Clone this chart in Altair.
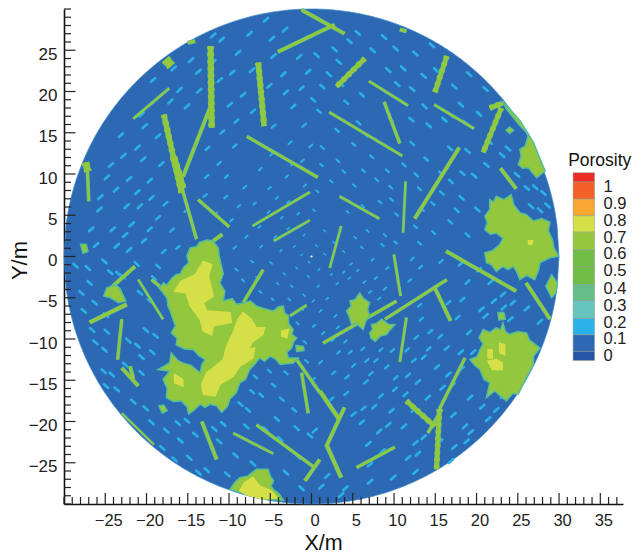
import math
import altair as alt
import pandas as pd

X_MAJOR = [-25, -20, -15, -10, -5, 0, 5, 10, 15, 20, 25, 30, 35]
Y_MAJOR = [-25, -20, -15, -10, -5, 0, 5, 10, 15, 20, 25]
X_MINOR = [v for v in range(-30, 38) if v not in X_MAJOR]
Y_MINOR = [v for v in range(-30, 31) if v not in Y_MAJOR]

FONT = "Liberation Sans"
DISC = "#2d68b2"
SKY = "#2ab0e6"
GREEN = "#93c83e"
YELLOW = "#d5df47"
EDGE = "#56bd9c"

# fractures: x1, y1, x2, y2, width class
FRACTURES = [
    (-12.24,25.5,-12.1,15.6,5),(-6.46,23.5,-5.74,15.8,4.5),(-17.9,17.2,-15.76,7.7,4.5),
    (-16.7,12,-15.6,8.2,6),(-15.76,8.5,-13.94,2.1,2.5),(-12.24,18.2,-15.56,9.7,3),
    (-7.84,14.55,0.76,9.6,2.5),(-13.74,6.9,-9.98,3.6,2.5),(-7.15,3.7,-0.2,7.8,1.8),
    (-4.57,1.9,-0.2,4.4,1.8),(-21.6,16.7,-17.25,20.4,2),(-4.08,24.8,2.8,28.1,3),
    (-1.2,29.9,4,27,3),(-27.2,11.4,-27.0,6.7,2.5),(-27.4,11.4,-27.1,10.3,6),
    (-17.7,23.9,-17,23.1,8),(-15,25.9,-14.1,26.1,3),(-10.8,2.7,-11.9,1.9,3),
    (-5.86,-1.6,-8.28,-5.6,2.5),(-21.4,-1.2,-24.1,-3.6,3),(6.46,24,3.03,20.6,4),
    (6.95,21.25,11.7,18.3,2),(8.8,18.75,10.7,13.7,2.5),(2.14,17.5,11,12.2,2),
    (14.87,18.4,19.7,15.5,2),(16.4,24.3,14.95,19.9,4),(23,18,20.8,12.6,4),
    (21.6,18,23.2,18.6,4),(17.9,13.2,12.5,4.6,3),(11.4,9.1,11.1,2.9,1.8),
    (3.4,7.3,8.2,4.6,2),(3.6,3.7,2.2,-1.4,1.8),(9.98,0.24,10.8,-4.8,2),
    (16.3,0.65,24.8,-4.2,3),(26,-3.2,28.9,-7.6,3),(16.4,-2.8,8.9,-7.6,2.5),
    (10.3,-5.4,1.4,-10.5,2.5),(14.95,-3.8,16.85,-7.8,3),(11.5,-7.4,10.7,-12.8,2),
    (18.6,-12.3,15.5,-18.5,2.5),(15.5,-18.5,15.15,-25.8,4),(11.5,-17.5,14.95,-20.6,4),
    (14.1,-21.4,15.8,-18.5,2.5),(10.1,-23.1,5.45,-25.6,2.5),(1,-16.3,3.4,-19.8,3.5),
    (4,-18.3,1.8,-23,3),(1.8,-22.8,3.6,-26.8,3.5),(-0.8,-27.2,1,-24.6,3),
    (-6.67,-20.4,0.4,-25.6,2.5),(-9.5,-21.4,-4.65,-23.9,2),(-13.3,-20,-11.5,-24.6,3),
    (-1.2,-14.1,-0.4,-19,2.5),(-1.8,-12.5,1,-16.5,2.5),(-21,-2.8,-18,-7.6,1.8),
    (-26.9,-8,-22.4,-5.8,3.5),(-23,-7.6,-23.5,-12.5,2.5),(-23,-13.5,-21,-15.7,3),
    (-22,-13.3,-21.6,-14.8,3),(-19.4,-2.8,-18.4,-3.6,2.5),(-23,-19,-19.1,-22.8,1.5),
    (-2.6,-7.2,-0.6,-5.9,2),(22.9,10.7,24.8,8.2,3),(10.7,27.5,11.5,27.3,3),
]

GREEN_BLOBS = {
    "main": [(-18.5,-3.8),(-17.9,-3.2),(-17.6,-3.5),(-16.9,-2.6),(-16.4,-2.2),(-15.9,-2.1),(-15.5,-1.3),(-14.9,-0.8),
             (-15.1,0.1),(-14.7,1.05),(-13.9,1.2),(-13.6,1.7),(-12.7,2.0),(-12.0,1.9),(-11.3,1.05),(-11.2,0.1),
             (-10.9,-1.2),(-10.7,-2.1),(-11.1,-3.2),(-10.5,-4.2),(-10.7,-5.4),(-9.6,-5.1),(-9.1,-5.8),(-8.1,-5.6),
             (-7.4,-5.4),(-6.7,-6.0),(-5.8,-6.3),(-4.6,-6.6),(-4.0,-6.1),(-3.4,-6.0),(-3.3,-6.8),(-2.8,-7.2),
             (-2.8,-8.1),(-2.2,-8.9),(-2.4,-9.4),(-1.8,-9.9),(-2.2,-10.4),(-2.4,-11.1),(-3.0,-11.6),(-2.8,-12.3),
             (-1.6,-12.3),(-2.2,-12.9),(-3.8,-13.1),(-4.4,-12.4),(-5.05,-12.1),(-5.7,-12.7),(-6.3,-12.3),(-7.0,-13.2),
             (-7.5,-13.7),(-8.0,-14.9),(-8.7,-15.3),(-9.1,-16.5),(-9.9,-17.3),(-10.2,-18.2),(-10.9,-18.9),(-11.5,-18.1),
             (-12.3,-17.9),(-12.9,-18.3),(-13.5,-17.9),(-14.2,-18.6),(-14.9,-19.1),(-15.1,-18.2),(-15.8,-17.5),
             (-16.7,-17.6),(-17.6,-17.1),(-17.5,-16),(-18,-14.9),(-17.2,-13.9),(-18.6,-13.7),(-17.2,-12.9),(-17,-11.7),
             (-16.2,-12.6),(-15.6,-12.9),(-14.6,-13.2),(-13.5,-14.1),(-13.3,-13.1),(-12.9,-12.5),(-13.7,-12),
             (-14.3,-11.3),(-15.4,-11.2),(-16.4,-10.7),(-16.3,-9.9),(-17,-9.25),(-16.5,-8.4),(-16.8,-7.6),(-17.1,-6.7),
             (-17.4,-6),(-17.5,-5.1),(-18,-4.4)],
    "bottom": [(-9.9,-28.25),(-9.3,-27.4),(-8.7,-26.8),(-7.7,-26.6),(-6.7,-25.8),(-5.25,-25.8),(-5.0,-26.6),(-4.6,-27.2),
               (-4.9,-27.8),(-4.6,-28.25),(-3.9,-28.8),(-3.4,-29.6),(-5.9,-29.4),(-8.3,-28.7)],
    "c1": [(5.85,-4.4),(6.2,-5),(7.05,-5.6),(6.8,-6.4),(7.05,-7.2),(6.6,-7.8),(6.25,-8.85),(5.4,-8.1),(4.85,-8.25),
           (4.6,-7.4),(4.25,-6.6),(4.8,-6),(4.65,-5.4),(5.3,-5.2)],
    "c2": [(8.5,-7.6),(9.3,-8.2),(10.1,-8.25),(9.5,-8.9),(9.1,-9.45),(8.4,-9.6),(7.7,-10.3),(7.2,-9.9),(7.05,-9.25),
           (7.4,-8.8),(7.25,-8.25),(7.9,-8.1)],
    "rlow": [(20.8,-8.85),(21.6,-9.2),(22.4,-8.65),(22.9,-8.9),(23.2,-8.05),(23.5,-9.1),(24,-9.45),(25,-9.1),(26.05,-9.25),
             (26.4,-10.1),(27.7,-11.1),(26.9,-12.1),(26.9,-13.1),(26.1,-14.6),(25.05,-16.7),(24.4,-16.6),(23.6,-17.5),
             (22.9,-16.9),(22.2,-16.3),(21.2,-17.1),(21.6,-15.3),(20.9,-14.9),(20.4,-13.7),(19.9,-13.3),(19.2,-12.5),
             (20.1,-12.1),(20.4,-11.3),(20.8,-10.6),(20.3,-9.85)],
    "rup": [(21.6,6.9),(22.0,6.6),(22.4,7.3),(23.3,6.9),(24.2,7.5),(24.5,6.3),(25.25,5.3),(26.0,5.1),(26.9,4.3),(27.9,4.6),
            (28.9,4.15),(28.7,3.1),(29.2,2.05),(29.4,1.0),(29.95,0.05),(28.9,-0.15),(27.7,-0.75),(27.5,-1.7),(27.05,-2.8),
            (26.1,-2.3),(25.25,-2.8),(24.9,-1.9),(24.45,-1.2),(23.8,-1.6),(23.2,-1.2),(22.4,-1.8),(21.8,-1.0),
            (21.2,-0.75),(21,0.45),(21.9,0.7),(22.8,1.45),(23.2,2.2),(22.4,2.85),(21.7,2.7),(21,3.25),(21.3,4.1),(21,4.9),
            (21.6,5.7)],
    "sliver": [(23.2,18.8),(25.25,16.5),(26.3,14.8),(25.2,15.9),(23.6,17.9)],
    "wedge": [(26.3,14.8),(26.9,13.8),(28.3,10.35),(27.3,9.55),(26.8,10.1),(26.3,10.75),(25.6,10.7),(25.05,11.15),
              (25.4,12.1),(25.25,13),(25.9,13.4)],
    "edge": [(29.1,-2.2),(29.8,-3.2),(29.6,-4.4),(29.1,-5),(28.4,-3.6)],
    "left": [(-23.8,-3.4),(-23.2,-3.9),(-22.9,-4.6),(-22.5,-5.4),(-23.4,-5.6),(-24.4,-5),(-25.2,-4.8),(-24.8,-3.8)],
    "d1": [(-18.5,-18.1),(-17.9,-18),(-17.5,-18.7),(-18.1,-19)],
    "d2": [(-28,1.5),(-27.3,1.5),(-27.1,0.6),(-27.7,0.4)],
    "d3": [(24,15.7),(24.5,15.3),(24,14.9),(23.6,15.3)],
    "d4": [(22.6,-6.8),(23.3,-6.8),(23.5,-7.6),(22.7,-7.7)],
    "d5": [(-1.9,-10.8),(-1,-10.9),(-0.9,-11.4),(-1.8,-11.5)],
}
YELLOW_BLOBS = {
    "y1": [(-13.1,-0.6),(-12.1,-1.0),(-12.5,-2.4),(-11.9,-4.8),(-13.1,-5.6),(-12.7,-6.6),(-9.9,-6.8),(-9.7,-8.0),
           (-11.9,-8.4),(-12.1,-9.5),(-13.1,-9.05),(-13.5,-7.6),(-14.7,-6.0),(-15.2,-4.4),(-16.6,-4.2),
           (-15.8,-3.0),(-14.1,-2.2)],
    "y2": [(-8.3,-6.8),(-7.3,-7.6),(-6.7,-8.65),(-5.7,-8.65),(-5.9,-9.45),(-7.1,-10.3),(-7.7,-11.3),(-6.9,-11.1),
           (-7.1,-12.3),(-8.7,-13.3),(-9.5,-14.5),(-11.1,-15.5),(-11.7,-16.9),(-13.1,-16.7),(-13.3,-15.5),
           (-12.7,-14.1),(-11.9,-13.5),(-10.7,-12.5),(-10.3,-10.9),(-9.5,-9.25),(-8.9,-7.6)],
    "y3": [(-16.6,-14.3),(-15.6,-14.9),(-15.6,-15.7),(-16.6,-15.3)],
    "y4": [(-3.6,-9.05),(-2.8,-8.85),(-3,-9.85),(-3.6,-9.65)],
    "y5": [(-8.7,-28.4),(-8.1,-27.4),(-7.1,-26.8),(-6.3,-27.8),(-4.9,-28.4),(-4.2,-29.25),(-5.9,-29.4),(-7.9,-28.85)],
    "y6": [(22.8,-10.5),(23.4,-10.7),(23.4,-11.9),(22.8,-11.7)],
    "y7": [(21.4,-11.3),(21.9,-11.3),(21.9,-12.3),(21.4,-12.3)],
    "y8": [(21.4,-12.7),(22.4,-12.5),(23.1,-12.9),(23.1,-13.7),(21.9,-13.7)],
    "y9": [(26.3,1.9),(26.8,1.9),(26.7,1.5),(26.3,1.5)],
}

# small pale blue flecks (x, y)
FLECKS = [
    (-5.5,28.7),(-4.8,26.4),(-8.9,24.7),(-10.9,26.3),(-11.9,26.8),(-1.2,20.4),(0.2,19),(-4.6,15.8),(-9.3,13.4),(-3,9.7),
    (-10.3,9.7),(-12.7,9.7),(-22.4,6.1),(-25.7,5.7),(-20.8,6.1),(-26.7,3.3),(-23.6,1.3),(-22.8,12.2),(-20.4,11.8),(-16,20.2),
    (-11.1,21.4),(-8.3,19.6),(-9.9,18.4),(-7.2,22.6),(-3.4,22.1),(-1.5,24.2),(-0.7,26.4),(-3.2,27.5),(-7.5,27),(-14.6,23.8),
    (-13.7,22.4),(-19.2,21.4),(-15.1,18.2),(-20.2,15.8),(-23.1,14.7),(-21.1,13.2),(-19.6,9.2),(-24.8,9.6),(-23.7,8.1),(-17.7,6.4),
    (-18.6,4.7),(-21.8,3.9),(-24.1,3.3),(-26.1,1.4),(-25.1,-0.6),(-22.1,0.8),(-20.3,1.9),(-17.9,0.6),(-16.9,3.2),(-18.6,-1.2),
    (-12.6,13.1),(-11.2,11.3),(-8.1,8.4),(-6.2,10.6),(-4.8,12.4),(-2.6,13.8),(-0.9,15.9),(-2.2,18.2),(2.1,22.1),(0.6,24.4),
    (2.8,25.1),(5.6,27.1),(8.8,26.6),(7.4,25),(10.2,25.2),(12.6,24.6),(11.1,22.8),(13.6,21.9),(9.3,22.6),(6.1,19.6),
    (4.2,18.7),(1.3,20.6),(12.2,20.3),(13.7,18.2),(12.1,16.6),(14.2,15.9),(17.3,20.6),(19.1,22.1),(21.1,20.3),(18.1,18.4),
    (20.3,17.3),(16.8,13.1),(18.9,12.8),(21.2,11.1),(19.7,9.8),(15.7,10.1),(13.9,11.8),(12.2,13.7),(9.2,10.4),(7.3,12.1),
    (5.1,13.6),(3.2,11.6),(1.3,13.2),(-1.1,11.6),(0.7,7.9),(2.4,9.1),(5.2,8.6),(7.9,9.3),(13.1,8.2),(15.8,7.7),
    (18.2,7.1),(20.1,5.7),(16.8,4.2),(14.8,2.9),(18.9,2.6),(13.1,1.6),(15.7,-0.6),(18.1,-0.9),(20.3,-1.6),(13.2,-1.3),
    (11.9,-2.9),(13.1,-5.9),(18.3,-5.2),(20.6,-6.4),(17.7,-7.4),(19.1,-9.2),(14.4,-9.1),(12.7,-9.8),(13.6,-12.2),(16.4,-11.1),
    (18.1,-11.6),(12.9,-15.2),(10.2,-14.7),(7.8,-12.6),(5.1,-13.2),(3.3,-11.6),(1.1,-12.8),(6.6,-15.2),(8.4,-16.9),(4.2,-16.6),
    (6.3,-18.4),(9.7,-18.7),(11.2,-20.6),(8.2,-21.2),(6.1,-20.1),(8.6,-23.6),(12.9,-23.9),(11.7,-24.4),(12.6,-26.1),(9.9,-26.8),
    (7.1,-27.3),(4.1,-28.1),(1.2,-27.9),(3.6,-28.9),(17.2,-19.2),(18.6,-20.6),(19.3,-21.3),(17.3,-23.1),(21.4,-19.7),(19.2,-17.1),
    (18.8,-22.4),(16.9,-24.8),(23.2,-16.9),(17.1,-15.6),(-3.1,-14.1),(-4.6,-15.6),(-6.8,-14.6),(-3.6,-17.3),(-6.1,-16.8),
    (-7.7,-18.6),(-4.2,-19.7),(-1.8,-20.8),(-7.9,-20.6),(-10.7,-20.3),(-11.2,-22.4),(-14.1,-21.6),(-15.9,-22.3),(-14.8,-24.4),(-17.6,-21.1),
    (-16.2,-20.2),(-19.4,-20.1),(-9.2,-24.1),(-7.1,-25.1),(-3.1,-26.2),(-1.6,-24.3),(-3.8,-22.1),(-0.2,-21.7),(-12.7,-25.9),(-10.2,-26.4),
    (-20.1,-18.4),(-21.6,-17.6),(-23.6,-16.1),(-25.2,-13.9),(-20.6,-14.1),(-19.3,-11.6),(-22.2,-10.2),(-25.1,-11.3),(-26.6,-8.9),(-24.8,-9.1),
    (-27.9,-4.4),(-26.9,-3.2),(-28.6,-1.1),(-20.1,-8.9),(-19.6,-5.4),(-18.9,-9.6),(-26.3,-5.6),(-24.9,-7.1),(-20.6,-12.2),(-24.2,-14.3),
    (3.1,15.3),(5.7,16.2),(7.9,14.1),(-0.1,13.4),(-5.1,8.3),(-6.9,6.4),(-8.8,6.1),(-10.4,7.2),(-2.8,6.6),(-5.2,5.4),
    (-7.9,2.4),(-9.3,1.1),(-6.1,1.2),(-3.7,0.7),(-2.1,1.2),(-1.2,0.2),(-4.9,-0.8),(-7.2,-0.6),(-9.1,-1.6),(-3.3,-2.1),
    (-1.8,-1.4),(-0.4,-2.4),(-2.4,-3.6),(-4.1,-3.3),(-0.9,-4.7),(0.8,-3.6),(1.9,-5.1),(3.1,-3.3),(1.1,-6.6),(2.9,-7.2),
    (0.6,1.3),(1.6,0.3),(2.7,1.7),(3.9,0.6),(4.8,-0.9),(6.1,1.1),(7.4,-0.4),(8.6,1.4),(5.3,2.3),(6.8,3.1),
    (8.9,2.6),(1.6,3.1),(0.3,5.6),(4.4,5.4),(6.2,6.1),(8.3,6.6),(9.7,6.9),(9.6,8.4),(10.3,5.1),(12.2,-0.3),
    (7.8,-2.6),(6.4,-3.1),(8.9,-3.9),(4.6,-2.6),(9.2,-1.4),(-0.9,2.6),(-2.8,3.4),(-6.6,-2.6),(-0.3,-0.7),(0.9,-1.6),
    (2.4,-2.2),(-1.7,-8.1),(0.3,-8.4),(-0.8,-10.4),(1.4,-9.3),(2.6,-10.1),(4.7,-11.6),(6.2,-11.2),(8.4,-11.3),(9.1,-13.4),
    (11.7,-14.4),(2.7,-14.1),(0.2,-14.9),(4.3,-14.6),(-0.6,-12.7),(2.4,-17.3),(7.2,-14.2),(0.4,-21.1),(11.4,-16.7),(14.1,-17.1),
    (28.6,6.2),(27.7,5.6),(28.1,7.7),(26.6,6.1),(26.1,8.3),(24.9,9.9),(27.1,8.4),(23.1,12.3),(23.8,13.1),(21.6,13.9),
    (24.3,5.6),(24.4,-5.6),(23.2,-4.6),(26.1,-6.3),(21.7,-3.1),(24.1,-7.6),(27.7,-7.9),(23.3,-6.2),(18.7,16.2),(16.1,16.6),
    (-24.3,11.1),(-22.1,9.4),(-21.1,7.8),(-25.6,7.2),(-19.4,7.1),(-18.2,11.2),(-20.6,17.2),(-18.6,14.6),(-17.1,18.8),(-13.6,20.1),
    (-9.1,16.4),(-10.8,15.1),(-7.1,17.6),(-3.1,19.9),(-5.1,20.7),(-0.4,22.4),(-11.9,23.6),(-16.7,22.8),(-9.6,22.3),(-4.6,24.3),
    (3.3,23.6),(4.6,26.1),(0.9,17.6),(3.6,20.9),(9.6,16.6),(6.6,14.7),(10.4,20.9),(15.1,22.6),(14.6,25.6),(16.9,17.1),
    (1.2,11.1),(-0.8,8.6),(-2.3,11.2),(-4.2,7.1),(3.9,10.3),(6.3,10.4),(11.2,11.1),(12.7,9.9),(14.7,6.4),(16.9,9.1),
    (18.3,10.1),(17.6,5.6),(12.6,3.6),(13.4,5.7),(10.2,1.7),(-1.6,5.2),(-3.6,4.7),(-9.7,4.4),(-11.6,5.2),(-12.9,7.4),
    (-15.2,5.6),(-16.2,1.1),(-19.6,3.3),(-22.6,2.6),(-24.4,-1.9),(-21.2,-0.9),(-27.1,-1.4),(-22.9,-2.4),(-6.3,3.6),(-4.4,2.4),
    (-8.3,-2.9),(-6.2,-4.3),(-4.7,-5.2),(-2.7,-5.2),(-1.1,-6.4),(0.2,-5.4),(3.9,-1.9),(5.6,-1.7),(7.1,-4.3),(8.2,-5.1),
    (3.2,-8.6),(4.1,-10.3),(6.7,-12.6),(9.8,-11.4),(11.6,-11.3),(13.3,-7.6),(15.6,-9.7),(15.2,-13.4),(12.4,-12.6),(10.1,-16.1),
    (7.6,-18.2),(5.1,-19.1),(6.9,-22.7),(9.3,-20.4),(12.4,-18.6),(13.6,-21.9),(12.6,-22.6),(7.1,-25.2),(1.9,-26.6),(-1.2,-28.1),
    (-5.6,-20.9),(-2.1,-18.6),(-7.2,-16.4),(-8.6,-17.9),(-5.1,-13.9),(-11.8,-20.9),(-15.1,-19.9),(-18.1,-23.2),(-16.6,-24.6),(-13.7,-26.2),
    (-24.9,-15.7),(-22.6,-13.1),(-21.1,-10.8),(-27.6,-6.6),(-23.4,-2.1),(-20.8,-4.4),(-19.1,-2.6),(-26.2,-10.4),(18.9,-3.1),(16.6,-5.6),
    (22.1,-5.4),(21.1,-7.2),(19.6,-11.6),(15.9,-15.9),(14.2,-11.2),(16.6,-14.3),(18.2,-13.6),(20.7,-18.2),(15.6,-22.4),(22.4,-18.6),
]

LEVEL_LABELS = ["1", "0.9", "0.8", "0.7", "0.6", "0.5", "0.4", "0.3", "0.2", "0.1", "0"]
LEVEL_Y = [8.45, 6.4, 4.35, 2.3, 0.25, -1.8, -3.9, -5.95, -8, -10.05, -12.1]
SWATCH_COLORS = ["#ee2a25","#f26228","#f8a831","#d5df47","#96c83f","#70bd45","#70bd45",
                 "#66bd88","#67c4bf","#2ab3e8","#2e68b2","#2553a5"]
SWATCH_EDGES = [10.15, 9.04, 6.95, 4.95, 2.95, 0.8, -1.25, -3.4, -5.35, -7.5, -9.5, -11.5, -12.6]
SWATCH_LEFT, SWATCH_RIGHT = 31.7, 34.3
LABEL_LEFT = 35.4

W, H = 559, 495
xs = alt.Scale(domain=[-30, 37.75], nice=False, zero=False)
ys = alt.Scale(domain=[-30, 30], nice=False, zero=False)
X = lambda f="x": alt.X(f"{f}:Q", scale=xs)
Y = lambda f="y": alt.Y(f"{f}:Q", scale=ys)


def polys(d):
    rows = []
    for name, pts in d.items():
        for i, (a, b) in enumerate(pts):
            rows.append({"name": name, "i": i, "x": a, "y": b})
    return pd.DataFrame(rows)


disc_x = [v / 4 for v in range(-120, 121)]
disc = pd.DataFrame({"x": disc_x,
                     "y": [math.sqrt(900 - v * v) for v in disc_x],
                     "y2": [-math.sqrt(900 - v * v) for v in disc_x]})
base = alt.Chart(disc).mark_area(color=DISC, opacity=1, stroke="#3c8cd0", strokeWidth=0.7).encode(
    x=alt.X("x:Q", scale=xs, axis=alt.Axis(values=X_MAJOR, title="X/m", tickSize=0, ticks=False, labelFontSize=16.5,
            labelFont=FONT, labelColor="#222222", labelPadding=8, labelOffset=3, grid=False,
            domainColor="#111111", domainWidth=1.6, labelFlush=False, labelOverlap=False,
            titleFont=FONT, titleFontSize=21.5, titleFontWeight="normal", titleColor="#111111",
            titleX=259, titleY=45, titleBaseline="alphabetic", titleAlign="center")),
    y=alt.Y("y:Q", scale=ys, axis=alt.Axis(values=Y_MAJOR, title="Y/m", tickSize=0, ticks=False, labelFontSize=17,
            labelFont=FONT, labelColor="#222222", labelPadding=7, labelOffset=4, grid=False,
            domainColor="#111111", domainWidth=1.6, labelFlush=False, labelOverlap=False,
            titleFont=FONT, titleFontSize=22, titleFontWeight="normal", titleColor="#111111",
            titleX=-38, titleY=251, titleAngle=270, titleBaseline="alphabetic", titleAlign="center")),
    y2="y2:Q",
)

rows = []
for k, (fx, fy) in enumerate(FLECKS):
    r = math.hypot(fx, fy)
    ln = 0.1 + 0.24 * min(r / 22, 1)
    wd = 1.5 + 1.2 * min(r / 22, 1)
    sx, sy = (0.75, 0.66) if fx * fy < 0 else (0.75, -0.66)
    rows.append({"k": k, "i": 0, "x": fx - ln * sx, "y": fy - ln * sy, "w": wd})
    rows.append({"k": k, "i": 1, "x": fx + ln * sx, "y": fy + ln * sy, "w": wd})
flecks = alt.Chart(pd.DataFrame(rows)).mark_line(color=SKY, strokeCap="round").encode(
    x=X(), y=Y(), detail="k:N", order="i:Q", strokeWidth=alt.StrokeWidth("w:Q", scale=None))

frac = pd.DataFrame(FRACTURES, columns=["x", "y", "x2", "y2", "w"])
frac["halo"] = frac["w"] + 1.2
frac["bump"] = frac["w"] + 1.8
halo = alt.Chart(frac).mark_rule(color=EDGE).encode(
    x=X(), y=Y(), x2="x2:Q", y2="y2:Q", strokeWidth=alt.StrokeWidth("halo:Q", scale=None))
core = alt.Chart(frac).mark_rule(color=GREEN).encode(
    x=X(), y=Y(), x2="x2:Q", y2="y2:Q", strokeWidth=alt.StrokeWidth("w:Q", scale=None))
bumps = alt.Chart(frac[frac["w"] >= 4]).mark_rule(color=GREEN, strokeDash=[3, 4]).encode(
    x=X(), y=Y(), x2="x2:Q", y2="y2:Q", strokeWidth=alt.StrokeWidth("bump:Q", scale=None))


def blob(d, fill, stroke):
    return alt.Chart(polys(d)).mark_line(interpolate="linear-closed", fill=fill, stroke=stroke,
                                         strokeWidth=1.5).encode(
        x=X(), y=Y(), detail="name:N", order="i:Q")


g = blob(GREEN_BLOBS, GREEN, EDGE)
yl = blob(YELLOW_BLOBS, YELLOW, YELLOW)

hole = alt.Chart(pd.DataFrame({"x": [0], "y": [0]})).mark_circle(color="white", size=5, opacity=1).encode(x=X(), y=Y())

sw_df = pd.DataFrame({"y": SWATCH_EDGES[:-1], "y2": SWATCH_EDGES[1:], "c": SWATCH_COLORS,
                      "x": SWATCH_LEFT, "x2": SWATCH_RIGHT})
swatches = alt.Chart(sw_df).mark_rect(stroke="#8a9a8a", strokeWidth=0.5).encode(
    x=X(), x2="x2:Q", y=Y(), y2="y2:Q", fill=alt.Fill("c:N", scale=None))
lab_df = pd.DataFrame({"t": LEVEL_LABELS, "y": LEVEL_Y, "x": LABEL_LEFT})
labels = alt.Chart(lab_df).mark_text(align="left", baseline="middle", font=FONT, fontSize=16.5, color="#222222").encode(
    x=X(), y=Y(), text="t:N")
ttl = alt.Chart(pd.DataFrame({"t": ["Porosity"], "x": [31.1], "y": [11.55]})).mark_text(
    align="left", baseline="middle", font=FONT, fontSize=17.5, color="#111111").encode(x=X(), y=Y(), text="t:N")


def xticks(vals, ln):
    return alt.Chart(pd.DataFrame({"x": vals})).mark_rule(color="#222222", strokeWidth=1.2).encode(
        x=X(), y=alt.value(H), y2=alt.value(H - ln))


def yticks(vals, ln):
    return alt.Chart(pd.DataFrame({"y": vals})).mark_rule(color="#222222", strokeWidth=1.2).encode(
        y=Y(), x=alt.value(0), x2=alt.value(ln))


chart = alt.layer(
    base, flecks, halo, core, bumps, g, yl, hole, swatches, labels, ttl,
    xticks(X_MAJOR, 11), xticks(X_MINOR, 7), yticks(Y_MAJOR, 11.5), yticks(Y_MINOR, 7),
).properties(
    width=W, height=H, autosize=alt.AutoSizeParams(type="none"),
    padding={"left": 56, "top": 1, "right": 10, "bottom": 51},
).configure_view(stroke=None)

chart.save("out.html", embed_options={"renderer": "svg", "actions": False})
